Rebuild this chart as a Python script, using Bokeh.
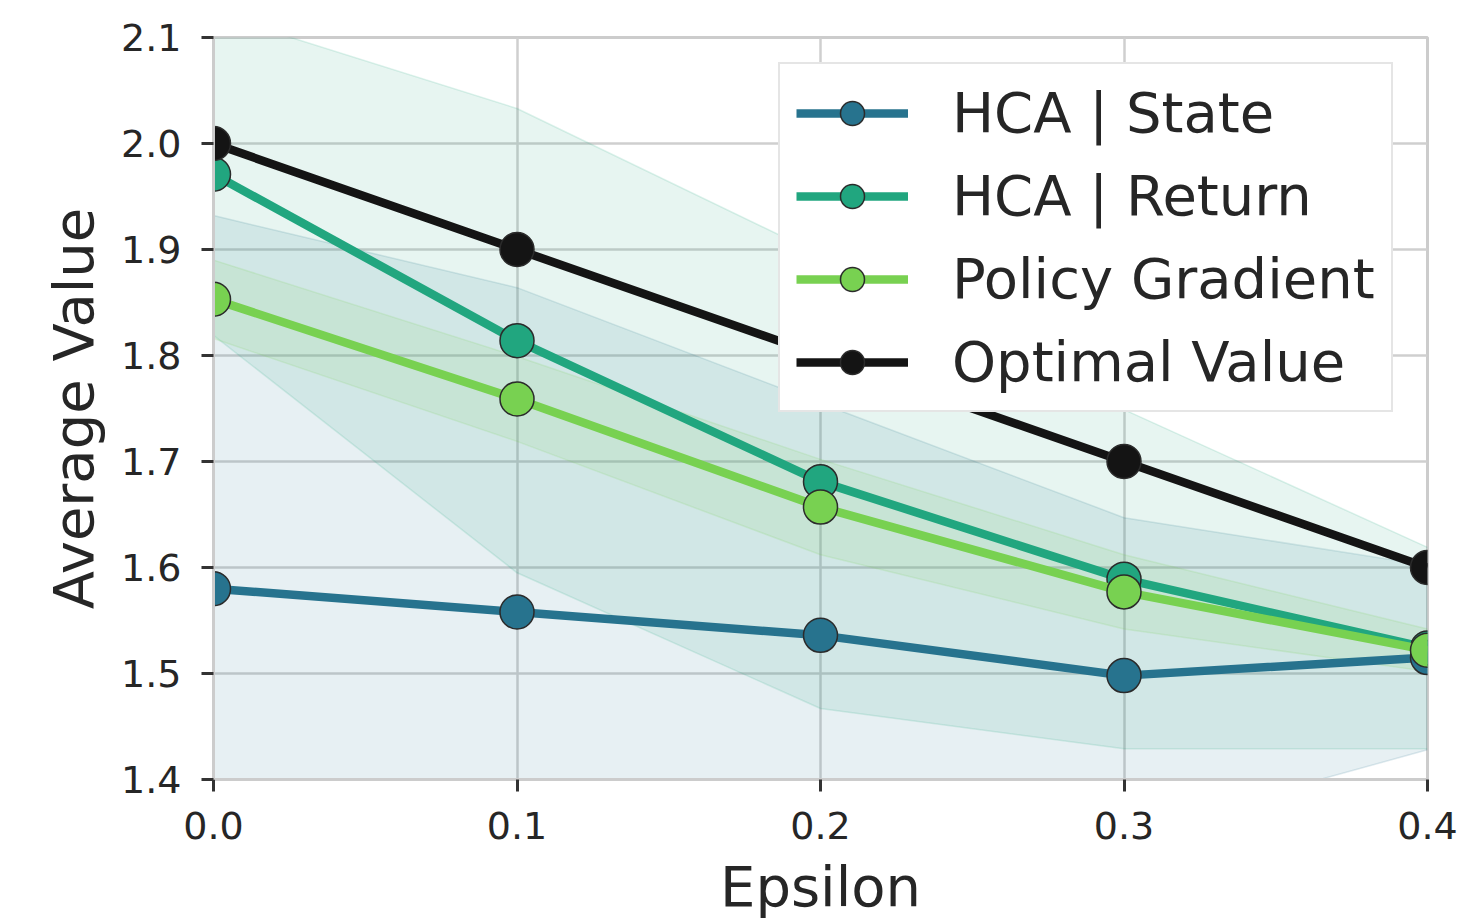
from bokeh.plotting import figure
from bokeh.models import Range1d, FixedTicker, PrintfTickFormatter, Legend, LegendItem, ColumnDataSource
from bokeh.embed import file_html
from bokeh.resources import INLINE

# ---- data ----
epsilon = [0.0, 0.1, 0.2, 0.3, 0.4]
state_mean = [1.580, 1.558, 1.536, 1.498, 1.515]
state_std = [0.352, 0.306, 0.219, 0.149, 0.087]
return_mean = [1.971, 1.814, 1.681, 1.589, 1.524]
return_std = [0.152, 0.219, 0.214, 0.160, 0.095]
pg_mean = [1.853, 1.759, 1.657, 1.577, 1.522]
pg_std = [0.037, 0.040, 0.045, 0.035, 0.020]
optimal_value = [2.0, 1.9, 1.8, 1.7, 1.6]

x_ticks = [0.0, 0.1, 0.2, 0.3, 0.4]
y_ticks = [1.4, 1.5, 1.6, 1.7, 1.8, 1.9, 2.0, 2.1]

series = [
    ("HCA | State", state_mean, state_std, "#27738e"),
    ("HCA | Return", return_mean, return_std, "#21a67f"),
    ("Policy Gradient", pg_mean, pg_std, "#78d151"),
    ("Optimal Value", optimal_value, None, "#141414"),
]

FONT = "DejaVu Sans"
TXT = "#262626"
SPINE = "#cccccc"

p = figure(
    frame_width=1214, frame_height=742,
    min_border_left=213, min_border_right=43, min_border_top=37, min_border_bottom=143,
    x_range=Range1d(0.0, 0.4), y_range=Range1d(1.4, 2.1),
    output_backend="svg", toolbar_location=None,
    background_fill_color="white", border_fill_color="white",
)
p.outline_line_color = SPINE
p.outline_line_width = 3

for ax in (p.xaxis, p.yaxis):
    ax.axis_line_color = SPINE
    ax.axis_line_width = 3
    ax.major_tick_line_color = "#333333"
    ax.major_tick_line_width = 3
    ax.major_tick_out = 12
    ax.major_tick_in = 0
    ax.minor_tick_line_color = None
    ax.major_label_text_font = FONT
    ax.major_label_text_font_size = "38px"
    ax.major_label_text_color = TXT
    ax.axis_label_text_font = FONT
    ax.axis_label_text_font_size = "56px"
    ax.axis_label_text_font_style = "normal"
    ax.axis_label_text_color = TXT
    ax.major_label_standoff = 20
    ax.axis_label_standoff = 12
    ax.formatter = PrintfTickFormatter(format="%.1f")

p.xaxis.ticker = FixedTicker(ticks=x_ticks)
p.yaxis.ticker = FixedTicker(ticks=y_ticks)
p.xaxis.axis_label = "Epsilon"
p.yaxis.axis_label = "Average Value"

p.grid.grid_line_color = "#cfcfcf"
p.grid.grid_line_width = 2.5
p.xgrid.ticker = FixedTicker(ticks=x_ticks)
p.ygrid.ticker = FixedTicker(ticks=y_ticks)

# bands
for name, mean, std, color in series:
    if std is None:
        continue
    lo = [m - s for m, s in zip(mean, std)]
    hi = [m + s for m, s in zip(mean, std)]
    src = ColumnDataSource(dict(x=epsilon, lo=lo, hi=hi))
    p.varea(x="x", y1="lo", y2="hi", source=src, fill_color=color, fill_alpha=0.11)
    p.line(x="x", y="lo", source=src, line_color=color, line_alpha=0.15, line_width=1.5)
    p.line(x="x", y="hi", source=src, line_color=color, line_alpha=0.15, line_width=1.5)

items = []
for name, mean, std, color in series:
    src = ColumnDataSource(dict(x=epsilon, y=mean))
    ln = p.line(x="x", y="y", source=src, line_color=color, line_width=8.5)
    sc = p.scatter(x="x", y="y", source=src, size=34, fill_color=color,
                   line_color="#2b2b2b", line_width=1.5)
    items.append(LegendItem(label=name, renderers=[ln, sc]))

legend = Legend(
    items=items, location=(565, 367),
    label_text_font=FONT, label_text_font_size="56px", label_text_color=TXT,
    glyph_width=112, glyph_height=60, label_height=60, spacing=18,
    padding=16, margin=0, label_standoff=44,
    border_line_color=SPINE, border_line_width=2.5,
    background_fill_color="white", background_fill_alpha=1.0,
)
p.add_layout(legend, "center")

open("out.html", "w").write(file_html(p, INLINE))
